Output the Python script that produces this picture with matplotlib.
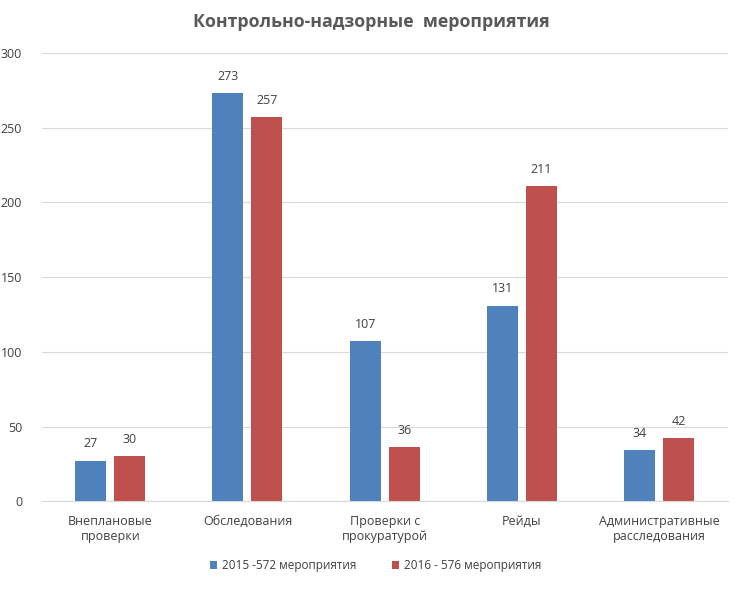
import matplotlib
matplotlib.use("Agg")
import matplotlib.pyplot as plt
import numpy as np

plt.rcParams['font.family'] = ['Open Sans', 'DejaVu Sans']

categories = ["Внеплановые\nпроверки", "Обследования", "Проверки с\nпрокуратурой",
              "Рейды", "Административные\nрасследования"]
vals_2015 = [27, 273, 107, 131, 34]
vals_2016 = [30, 257, 36, 211, 42]
labels = ["2015 -572 мероприятия", "2016 - 576 мероприятия"]
colors = ["#4F81BD", "#C0504D"]

fig = plt.figure(figsize=(7.44, 5.89), dpi=100)
ax = fig.add_axes([0.056, 0.149, 0.922, 0.761])

x = np.arange(len(categories))
w = 0.226
off = 0.142
b1 = ax.bar(x - off, vals_2015, w, color=colors[0], label=labels[0])
b2 = ax.bar(x + off, vals_2016, w, color=colors[1], label=labels[1])

for bars, vals in ((b1, vals_2015), (b2, vals_2016)):
    for b, v in zip(bars, vals):
        ax.text(b.get_x() + b.get_width() / 2, v + 7, str(v), ha="center", va="bottom",
                fontsize=9, color="#404040")

ax.set_xlim(-0.5, 4.5)
ax.set_ylim(0, 300)
ax.set_yticks(range(0, 301, 50))
ax.set_xticks(x)
ax.set_xticklabels(categories, fontsize=9, color="#404040")
ax.tick_params(axis="y", labelsize=9, labelcolor="#404040", length=0, pad=14)
ax.tick_params(axis="x", length=0, pad=10)
ax.grid(axis="y", color="#D9D9D9", linewidth=0.8)
ax.set_axisbelow(True)
for s in ["top", "right", "left"]:
    ax.spines[s].set_visible(False)
ax.spines["bottom"].set_color("#D9D9D9")

fig.suptitle("Контрольно-надзорные  мероприятия", x=0.499, y=0.978, fontsize=12.8,
             fontweight="bold", color="#595959")

fig.legend(handles=[b1, b2], loc="center", bbox_to_anchor=(0.505, 0.04), ncol=2,
           frameon=False, fontsize=8.5, handlelength=0.6, handleheight=0.6,
           columnspacing=3, handletextpad=0.4, labelcolor="#404040")

fig.savefig("out.png", dpi=100)
